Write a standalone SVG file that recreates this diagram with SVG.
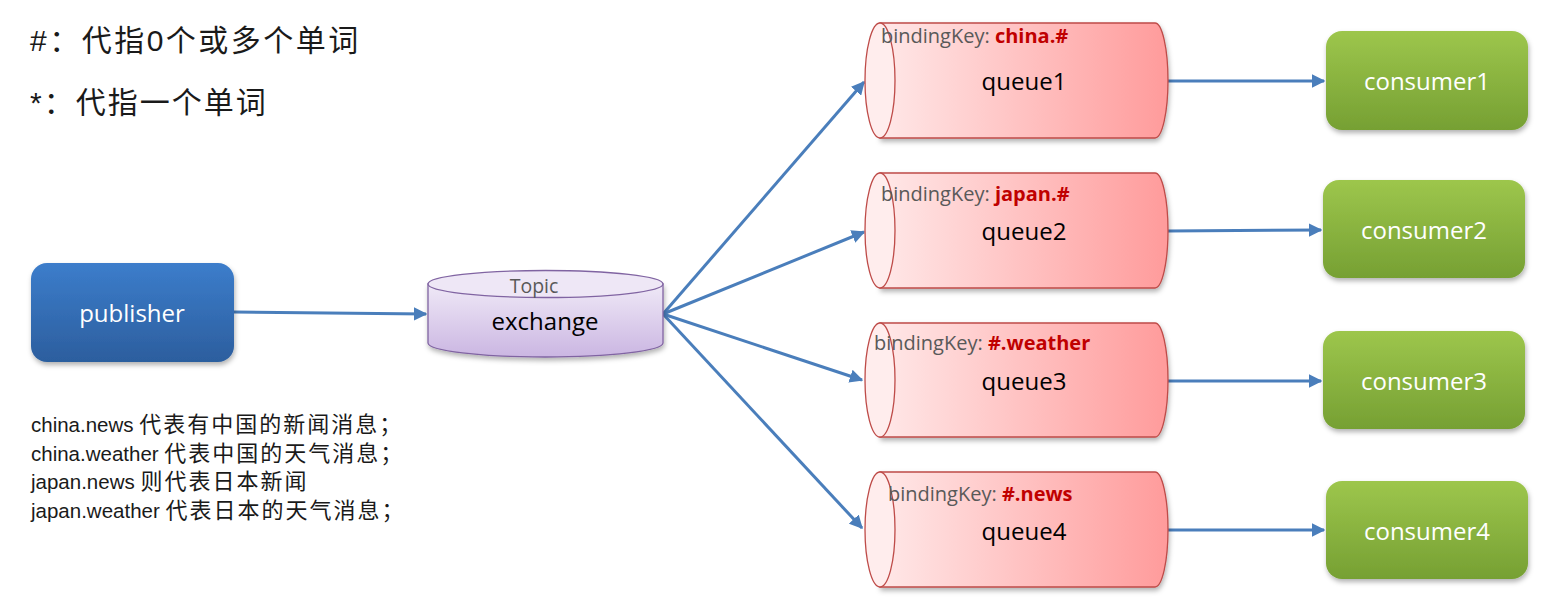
<svg xmlns="http://www.w3.org/2000/svg" width="1567" height="616" viewBox="0 0 1567 616">
<defs>
<linearGradient id="gBlue" x1="0" y1="0" x2="0" y2="1"><stop offset="0" stop-color="#3C7DCB"/><stop offset="1" stop-color="#2C5E9E"/></linearGradient>
<linearGradient id="gGreen" x1="0" y1="0" x2="0" y2="1"><stop offset="0" stop-color="#9DC64C"/><stop offset="1" stop-color="#76A033"/></linearGradient>
<linearGradient id="gRed" x1="0" y1="0" x2="1" y2="0"><stop offset="0" stop-color="#FFE8E8"/><stop offset="1" stop-color="#FF9B9B"/></linearGradient>
<linearGradient id="gPurple" x1="0" y1="0" x2="0" y2="1"><stop offset="0" stop-color="#EFE9F7"/><stop offset="1" stop-color="#CBB6E2"/></linearGradient>
<filter id="sh" x="-10%" y="-10%" width="120%" height="130%"><feDropShadow dx="1" dy="3" stdDeviation="2.5" flood-color="#000" flood-opacity="0.3"/></filter>
<marker id="ah" viewBox="0 0 10 10" refX="9" refY="5" markerWidth="4.5" markerHeight="4.5" orient="auto" markerUnits="strokeWidth"><path d="M0,0 L10,5 L0,10 z" fill="#4A7EBB"/></marker>
<style>
.cn{font-family:"Liberation Sans","Noto Sans CJK SC",sans-serif;fill:#1a1a1a}
.lat{font-size:20.5px}
.han{font-size:22px;letter-spacing:2px}
.box{font-family:"Open Sans","Liberation Sans",sans-serif;font-size:24px;fill:#fff;text-anchor:middle}
.ql{font-family:"Open Sans","Liberation Sans",sans-serif;font-size:24px;fill:#000;text-anchor:middle}
.bk{font-family:"Open Sans","Liberation Sans",sans-serif;font-size:20px;fill:#595959}
.bkv{fill:#C00000;font-weight:bold}
.q{fill:url(#gRed);stroke:#BE4B48;stroke-width:1.3}
.qe{fill:#FFEDED;stroke:#BE4B48;stroke-width:1.3}
.conn{stroke:#4A7EBB;stroke-width:3;fill:none;marker-end:url(#ah)}
</style>
</defs>

<g id="legend-top">
<text class="cn" x="30" y="51" font-size="30" letter-spacing="2.5">#：代指0个或多个单词</text>
<text class="cn" x="30" y="113" font-size="30" letter-spacing="2">*：代指一个单词</text>
</g>

<g id="legend-bottom" class="cn">
<text x="31" y="432"><tspan class="lat">china.news </tspan><tspan class="han">代表有中国的新闻消息；</tspan></text>
<text x="31" y="461"><tspan class="lat">china.weather </tspan><tspan class="han">代表中国的天气消息；</tspan></text>
<text x="31" y="489"><tspan class="lat">japan.news </tspan><tspan class="han">则代表日本新闻</tspan></text>
<text x="31" y="518"><tspan class="lat">japan.weather </tspan><tspan class="han">代表日本的天气消息；</tspan></text>
</g>

<g id="connectors">
<path class="conn" d="M234,312 L426,314"/>
<path class="conn" d="M663,314 L864,82"/>
<path class="conn" d="M663,314 L864,232"/>
<path class="conn" d="M663,314 L862,380"/>
<path class="conn" d="M663,314 L862,528"/>
<path class="conn" d="M1168,81 L1324,81"/>
<path class="conn" d="M1168,231 L1321,230"/>
<path class="conn" d="M1168,381 L1321,381"/>
<path class="conn" d="M1168,530 L1324,530"/>
</g>

<g id="publisher">
<rect x="31" y="263" width="203" height="99" rx="16" fill="url(#gBlue)" filter="url(#sh)"/>
<text class="box" x="132" y="322">publisher</text>
</g>

<g id="exchange">
<path d="M428,284 L428,343 A117.5,14 0 0 0 663,343 L663,284 Z" fill="url(#gPurple)" stroke="#8064A2" stroke-width="1.3" filter="url(#sh)"/>
<ellipse cx="545.5" cy="284" rx="117.5" ry="13.5" fill="#EEE7F6" stroke="#8064A2" stroke-width="1.3"/>
<text x="534" y="293" font-family="'Open Sans','Liberation Sans',sans-serif" font-size="19.5" fill="#595959" text-anchor="middle">Topic</text>
<text class="ql" x="545" y="330" font-size="23.5">exchange</text>
</g>

<g id="queue1">
<path class="q" d="M880,23 L1155,23 A13,57.5 0 0 1 1155,138 L880,138 Z" filter="url(#sh)"/>
<ellipse class="qe" cx="880" cy="80.5" rx="15" ry="57.5"/>
<text class="bk" x="881" y="43">bindingKey: <tspan class="bkv">china.#</tspan></text>
<text class="ql" x="1024" y="90">queue1</text>
</g>

<g id="queue2">
<path class="q" d="M880,173 L1155,173 A13,57.5 0 0 1 1155,288 L880,288 Z" filter="url(#sh)"/>
<ellipse class="qe" cx="880" cy="230.5" rx="15" ry="57.5"/>
<text class="bk" x="881" y="201">bindingKey: <tspan class="bkv">japan.#</tspan></text>
<text class="ql" x="1024" y="240">queue2</text>
</g>

<g id="queue3">
<path class="q" d="M880,323 L1155,323 A13,57 0 0 1 1155,437 L880,437 Z" filter="url(#sh)"/>
<ellipse class="qe" cx="880" cy="380" rx="15" ry="57"/>
<text class="bk" x="874" y="350">bindingKey: <tspan class="bkv">#.weather</tspan></text>
<text class="ql" x="1024" y="390">queue3</text>
</g>

<g id="queue4">
<path class="q" d="M880,472 L1155,472 A13,57.5 0 0 1 1155,587 L880,587 Z" filter="url(#sh)"/>
<ellipse class="qe" cx="880" cy="529.5" rx="15" ry="57.5"/>
<text class="bk" x="888" y="501">bindingKey: <tspan class="bkv">#.news</tspan></text>
<text class="ql" x="1024" y="540">queue4</text>
</g>

<g id="consumer1">
<rect x="1326" y="31" width="202" height="99" rx="16" fill="url(#gGreen)" filter="url(#sh)"/>
<text class="box" x="1427" y="90">consumer1</text>
</g>
<g id="consumer2">
<rect x="1323" y="180" width="202" height="98" rx="16" fill="url(#gGreen)" filter="url(#sh)"/>
<text class="box" x="1424" y="239">consumer2</text>
</g>
<g id="consumer3">
<rect x="1323" y="331" width="202" height="98" rx="16" fill="url(#gGreen)" filter="url(#sh)"/>
<text class="box" x="1424" y="390">consumer3</text>
</g>
<g id="consumer4">
<rect x="1326" y="481" width="202" height="98" rx="16" fill="url(#gGreen)" filter="url(#sh)"/>
<text class="box" x="1427" y="540">consumer4</text>
</g>
</svg>
